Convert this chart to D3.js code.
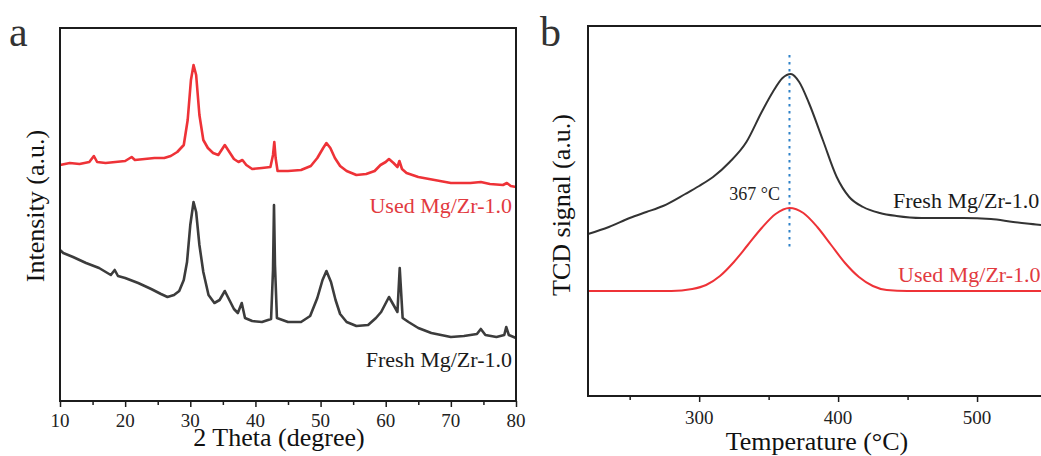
<!DOCTYPE html>
<html>
<head>
<meta charset="utf-8">
<script src="https://cdn.jsdelivr.net/npm/d3@7/dist/d3.min.js"></script>
<style>
	html, body { margin: 0; padding: 0; background: #fff; }
	svg { display: block; }
	svg text { font-family: 'Liberation Serif', 'Times New Roman', serif !important; }
</style>
</head>
<body>
<svg id="chart" width="1041" height="456"></svg>
<script>
// ---- panel a : XRD, 2 theta (degree) vs intensity (a.u.) ----
const xrdTicks = [ 10, 20, 30, 40, 50, 60, 70, 80 ];
const xrdMinorTicks = [ 15, 25, 35, 45, 55, 65, 75 ];

const usedTheta = [ 10, 11.5, 13, 14.5, 15.2, 15.7, 17, 18.5, 20, 21, 21.5, 23, 24.5, 26, 27, 28, 29, 29.6, 30.1, 30.5, 30.9, 31.4, 32, 32.7, 33.5, 34.3, 35.3, 36, 36.7, 37.4, 38, 38.6, 39.5, 41, 42.3, 42.7, 42.9, 43.1, 43.4, 45, 47, 48.5, 49.5, 50.4, 50.9, 51.5, 52.2, 53, 54, 55.5, 57, 58.3, 59.2, 60, 60.5, 61.2, 61.8, 62.1, 62.5, 63.2, 65, 67.5, 70, 73, 74.6, 76, 78, 78.6, 79.2, 80 ];
const usedIntensity = [ 236, 238, 237, 239, 245, 239, 238, 239, 240, 244, 241, 242, 243, 243, 245, 249, 256, 281, 321, 336, 326, 286, 261, 253, 248, 246, 256, 249, 242, 239, 241, 236, 232, 233, 234, 246, 259, 243, 230, 230, 231, 235, 243, 253, 258, 253, 243, 235, 230, 226, 227, 230, 236, 239, 242, 238, 234, 240, 232, 228, 224, 221, 218, 218, 219, 217, 216, 218, 215, 214 ];

const freshTheta = [ 10, 10.5, 12, 14, 16, 17.8, 18.4, 18.9, 20, 22, 24, 25.5, 26.5, 27.5, 28.3, 29, 29.5, 30, 30.5, 30.9, 31.4, 32, 32.8, 33.7, 34.5, 35.3, 36, 36.7, 37.3, 37.9, 38.4, 39.5, 41, 42.4, 42.7, 42.85, 43, 43.3, 45, 47, 48.4, 49.5, 50.3, 50.9, 51.6, 52.3, 53, 54, 55.5, 57.3, 58.5, 59.3, 60.5, 61.2, 61.8, 62.15, 62.6, 63.5, 65, 67, 70, 72, 74, 74.6, 75.3, 77, 78.2, 78.5, 78.9, 80 ];
const freshIntensity = [ 151, 148, 144, 138, 133, 126, 131, 125, 123, 118, 112, 107, 104, 106, 110, 121, 139, 176, 199, 189, 156, 129, 106, 98, 101, 110, 101, 92, 88, 98, 83, 80, 79, 82, 131, 196, 136, 83, 79, 79, 85, 103, 121, 130, 119, 101, 87, 79, 75, 76, 83, 89, 104, 96, 89, 133, 83, 79, 73, 68, 64, 65, 67, 72, 66, 64, 66, 74, 66, 63 ];

// ---- panel b : temperature (°C) vs TCD signal (a.u.) ----
const tpdTicks = [ 300, 400, 500 ];
const tpdMinorTicks = [ 250, 350, 450, 550 ];

const freshTemp = [ 220, 235, 250, 262, 274, 290, 300, 310, 322, 334, 345, 353, 360, 366, 372, 379, 389, 399, 408, 418, 430, 442, 460, 490, 510, 526, 546, 570, 600 ];
const freshSignal = [ 162, 169, 178, 184, 190, 202, 210, 219, 234, 254, 284, 304, 318, 322, 314, 293, 256, 219, 199, 189, 183, 180, 178, 178, 177, 174, 171, 167, 164 ];

const usedTemp = [ 220, 280, 295, 305, 315, 325, 335, 345, 355, 365, 375, 385, 395, 405, 415, 425, 435, 450, 600 ];
const usedSignal = [ 105, 105, 107, 111, 120, 134, 151, 168, 182, 188, 183, 169, 151, 133, 119, 110, 106, 105, 105 ];

const peakTemp = 365;
const peakLabel = '367 °C';
const peakSpan = [ 149, 341 ];

const RED = '#ee3237';
const DARK = '#3c3c3c';
const AXIS = '#1c1c1c';
const SERIF = 'Liberation Serif, Times New Roman, serif';

const svg = d3.select( '#chart' );

function toPoints( xs, ys ) {
	return xs.map( ( x, i ) => [ x, ys[ i ] ] );
}

function drawFrame( g, x, y, majors, minors, labelOffset ) {
	const [ x0, x1 ] = x.range();
	const [ yBottom, yTop ] = y.range();

	// tick marks only, labels are drawn separately below
	[ [ minors, 4 ], [ majors, 6 ] ].forEach( ( [ values, size ] ) => {
		g.append( 'g' )
			.attr( 'transform', `translate(0,${ yBottom })` )
			.call( d3.axisBottom( x ).tickValues( values ).tickSize( size ).tickFormat( '' ) )
			.call( ( a ) => a.select( '.domain' ).remove() )
			.call( ( a ) => a.selectAll( 'line' ).attr( 'stroke', AXIS ).attr( 'stroke-width', 1.5 ) );
	} );

	g.append( 'g' )
		.selectAll( 'text' )
		.data( majors )
		.join( 'text' )
		.attr( 'x', ( d ) => x( d ) )
		.attr( 'y', yBottom + labelOffset )
		.attr( 'text-anchor', 'middle' )
		.attr( 'fill', '#222' )
		.attr( 'font-family', SERIF )
		.attr( 'font-size', 19 )
		.text( ( d ) => d );

	g.append( 'rect' )
		.attr( 'x', x0 )
		.attr( 'y', yTop )
		.attr( 'width', x1 - x0 )
		.attr( 'height', yBottom - yTop )
		.attr( 'fill', 'none' )
		.attr( 'stroke', AXIS )
		.attr( 'stroke-width', 2 );
}

function label( g, text, x, y, opts = {} ) {
	return g.append( 'text' )
		.attr( 'x', x )
		.attr( 'y', y )
		.attr( 'text-anchor', opts.anchor || 'start' )
		.attr( 'fill', opts.color || '#111' )
		.attr( 'font-family', SERIF )
		.attr( 'font-size', opts.size || 22 )
		.attr( 'transform', opts.rotate ? `rotate(-90 ${ x } ${ y })` : null )
		.text( text );
}

// ---------- panel a ----------
const ga = svg.append( 'g' );
const xa = d3.scaleLinear().domain( [ 10, 80 ] ).range( [ 60, 516 ] );
const ya = d3.scaleLinear().domain( [ 0, 373 ] ).range( [ 401, 28 ] );

const lineA = d3.line()
	.x( ( d ) => xa( d[ 0 ] ) )
	.y( ( d ) => ya( d[ 1 ] ) );

ga.append( 'path' )
	.datum( toPoints( freshTheta, freshIntensity ) )
	.attr( 'd', lineA )
	.attr( 'fill', 'none' )
	.attr( 'stroke', DARK )
	.attr( 'stroke-width', 2.6 )
	.attr( 'stroke-linejoin', 'round' );

ga.append( 'path' )
	.datum( toPoints( usedTheta, usedIntensity ) )
	.attr( 'd', lineA )
	.attr( 'fill', 'none' )
	.attr( 'stroke', RED )
	.attr( 'stroke-width', 2.6 )
	.attr( 'stroke-linejoin', 'round' );

drawFrame( ga, xa, ya, xrdTicks, xrdMinorTicks, 26 );

label( ga, 'Used Mg/Zr-1.0', 512, 213, { anchor: 'end', color: '#e23a3f' } );
label( ga, 'Fresh Mg/Zr-1.0', 512, 367, { anchor: 'end', color: '#1a1a1a' } );
label( ga, '2 Theta (degree)', 279, 446, { anchor: 'middle', size: 26 } );
label( ga, 'Intensity (a.u.)', 44, 206, { anchor: 'middle', size: 26, rotate: true } );
label( ga, 'a', 9, 46, { size: 42, color: '#333' } );

// ---------- panel b ----------
const gb = svg.append( 'g' );
const xb = d3.scaleLinear().domain( [ 220, 600 ] ).range( [ 588, 1116 ] );
const yb = d3.scaleLinear().domain( [ 0, 370 ] ).range( [ 396, 26 ] );

const lineB = d3.line()
	.curve( d3.curveMonotoneX )
	.x( ( d ) => xb( d[ 0 ] ) )
	.y( ( d ) => yb( d[ 1 ] ) );

gb.append( 'path' )
	.datum( toPoints( freshTemp, freshSignal ) )
	.attr( 'd', lineB )
	.attr( 'fill', 'none' )
	.attr( 'stroke', '#333' )
	.attr( 'stroke-width', 2 );

gb.append( 'path' )
	.datum( toPoints( usedTemp, usedSignal ) )
	.attr( 'd', lineB )
	.attr( 'fill', 'none' )
	.attr( 'stroke', RED )
	.attr( 'stroke-width', 2 );

gb.append( 'line' )
	.attr( 'x1', xb( peakTemp ) )
	.attr( 'x2', xb( peakTemp ) )
	.attr( 'y1', yb( peakSpan[ 1 ] ) )
	.attr( 'y2', yb( peakSpan[ 0 ] ) )
	.attr( 'stroke', '#2f82c8' )
	.attr( 'stroke-width', 2 )
	.attr( 'stroke-dasharray', '2.5,4.5' );

drawFrame( gb, xb, yb, tpdTicks, tpdMinorTicks, 28 );

label( gb, peakLabel, 780, 200, { anchor: 'end', size: 18, color: '#222' } );
label( gb, 'Fresh Mg/Zr-1.0', 893, 208, { color: '#1a1a1a' } );
label( gb, 'Used Mg/Zr-1.0', 898, 282, { color: '#e23a3f' } );
label( gb, 'Temperature (°C)', 817, 450, { anchor: 'middle', size: 26 } );
label( gb, 'TCD signal (a.u.)', 570, 205, { anchor: 'middle', size: 26, rotate: true } );
label( gb, 'b', 540, 46, { size: 42, color: '#333' } );
</script>
</body>
</html>
